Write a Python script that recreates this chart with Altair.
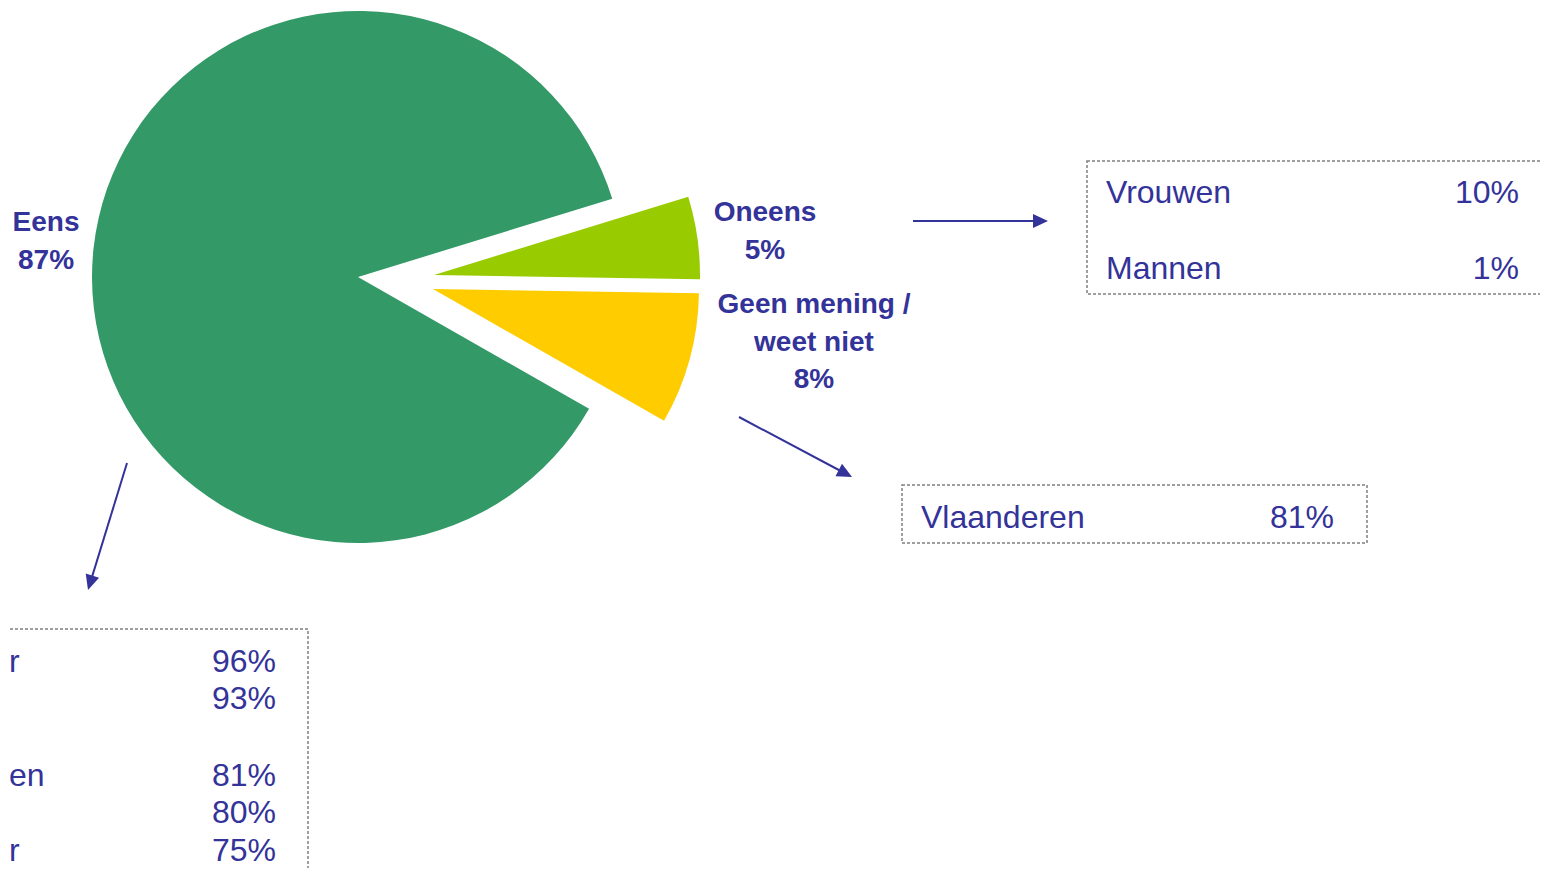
import math
import altair as alt
import pandas as pd

# ---------------- values ----------------
categories = ["Oneens", "Geen mening / weet niet", "Eens"]
percentages = [5, 8, 87]
slice_labels = ["Oneens\n5%", "Geen mening /\nweet niet\n8%", "Eens\n87%"]
slice_colors = ["#99CC00", "#FFCC00", "#339966"]

box1_labels = ["Vrouwen", "Mannen"]
box1_values = ["10%", "1%"]
box2_labels = ["Vlaanderen"]
box2_values = ["81%"]
# only the tails of these row labels are visible in the source (cut at the left edge)
box3_labels = ["r", "", "en", "", "r"]
box3_values = ["96%", "93%", "81%", "80%", "75%"]

# ---------------- layout (page pixels) ----------------
MARGIN = 8
X_END, Y_END = 1540, 868          # last page pixel the chart covers (page must not scroll)
W, H = X_END - MARGIN, Y_END - MARGIN
pie_cx, pie_cy, pie_r = 358, 277, 266
start_deg = 72.9
explode_dx = [76, 75, 0]
explode_dy = [-2, 12, 0]
label_x = [765, 814, 46]
label_y = [221, 313, 231]

box_x = [1087, 902, -20]
box_x2 = [1600, 1367, 308]
box_y = [161, 485, 629]
box_y2 = [294, 543, 920]

box1_lx, box1_vx, box1_y = 1106, 1519, [203, 279]
box2_lx, box2_vx, box2_y = 921, 1334, [528]
box3_lx = 9
box3_vx, box3_y = 276, [672, 709, 786, 823, 861]

arrow_x1 = [913, 739, 127]
arrow_y1 = [221, 417, 463]
arrow_x2 = [1048, 852, 88]
arrow_y2 = [221, 477, 590]

TEXT = "#333399"
FONT = "Liberation Sans"

# ---------------- tables ----------------
pie_df = pd.DataFrame({
    "category": categories, "value": percentages, "label": slice_labels,
    "order": list(range(len(categories))),
    "cx": [pie_cx + d for d in explode_dx], "cy": [pie_cy + d for d in explode_dy],
    "lx": label_x, "ly": label_y,
})

box_df = pd.DataFrame({"x": box_x, "x2": box_x2, "y": box_y, "y2": box_y2})

rows = []
for lab, val, y in zip(box1_labels, box1_values, box1_y):
    rows.append({"label": lab, "value": val, "lx": box1_lx, "vx": box1_vx, "y": y})
for lab, val, y in zip(box2_labels, box2_values, box2_y):
    rows.append({"label": lab, "value": val, "lx": box2_lx, "vx": box2_vx, "y": y})
for lab, val, y in zip(box3_labels, box3_values, box3_y):
    rows.append({"label": lab, "value": val, "lx": box3_lx, "vx": box3_vx, "y": y})
txt_df = pd.DataFrame(rows)

arr_rows = []
for x1, y1, x2, y2 in zip(arrow_x1, arrow_y1, arrow_x2, arrow_y2):
    dx, dy = x2 - x1, y2 - y1
    L = math.hypot(dx, dy)
    ex, ey = x2 - dx / L * 8, y2 - dy / L * 8
    arr_rows.append({"x1": x1, "y1": y1, "xe": ex, "ye": ey, "xt": x2, "yt": y2,
                     "angle": math.degrees(math.atan2(dx, -dy)) % 360})
arr_df = pd.DataFrame(arr_rows)

# page coordinates -> plot coordinates (the page has an 8px margin)
xs = alt.Scale(domain=[MARGIN, X_END], range=[0, W], nice=False, zero=False)
ys = alt.Scale(domain=[MARGIN, Y_END], range=[0, H], nice=False, zero=False)

a0 = math.radians(start_deg)
pie = alt.Chart(pie_df).transform_window(
    end="sum(value)", sort=[alt.SortField("order")], frame=[None, 0]
).transform_calculate(
    start="datum.end - datum.value"
).mark_arc(radius=pie_r).encode(
    x=alt.X("cx:Q", scale=xs, axis=None),
    y=alt.Y("cy:Q", scale=ys, axis=None),
    theta=alt.Theta("start:Q", stack=None,
                    scale=alt.Scale(domain=[0, 100], range=[a0, a0 + 2 * math.pi])),
    theta2="end:Q",
    color=alt.Color("category:N", scale=alt.Scale(domain=categories, range=slice_colors), legend=None),
)

pie_labels = alt.Chart(pie_df).mark_text(
    font=FONT, fontSize=28, fontWeight="bold", color=TEXT, align="center",
    baseline="alphabetic", lineBreak="\n", lineHeight=37.5
).encode(x=alt.X("lx:Q", scale=xs, axis=None), y=alt.Y("ly:Q", scale=ys, axis=None), text="label:N")

boxes = alt.Chart(box_df).mark_rect(
    fill="transparent", stroke="#808080", strokeWidth=1.5, strokeDash=[3, 2], clip=True
).encode(x=alt.X("x:Q", scale=xs, axis=None), x2="x2:Q",
         y=alt.Y("y:Q", scale=ys, axis=None), y2="y2:Q")

tl = alt.Chart(txt_df).mark_text(font=FONT, fontSize=32, color=TEXT, align="left", baseline="alphabetic").encode(
    x=alt.X("lx:Q", scale=xs, axis=None), y=alt.Y("y:Q", scale=ys, axis=None), text="label:N")
tv = alt.Chart(txt_df).mark_text(font=FONT, fontSize=32, color=TEXT, align="right", baseline="alphabetic").encode(
    x=alt.X("vx:Q", scale=xs, axis=None), y=alt.Y("y:Q", scale=ys, axis=None), text="value:N")

lines = alt.Chart(arr_df).mark_rule(color=TEXT, strokeWidth=2).encode(
    x=alt.X("x1:Q", scale=xs, axis=None), y=alt.Y("y1:Q", scale=ys, axis=None),
    x2="xe:Q", y2="ye:Q")
heads = alt.Chart(arr_df).mark_point(
    shape="M0,0L-0.93,2L0.93,2Z", filled=True, color=TEXT, opacity=1, size=225, strokeWidth=0
).encode(x=alt.X("xt:Q", scale=xs, axis=None), y=alt.Y("yt:Q", scale=ys, axis=None),
         angle=alt.Angle("angle:Q", scale=None))

chart = alt.layer(pie, boxes, pie_labels, tl, tv, lines, heads).properties(
    width=W, height=H,
    padding=0,
    autosize=alt.AutoSizeParams(type="none"),
    background="white",
).configure_view(strokeWidth=0)

chart.save("out.html", embed_options={"renderer": "svg", "actions": False})
